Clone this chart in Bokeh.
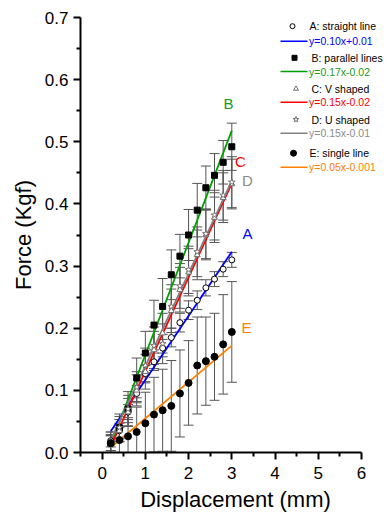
from bokeh.plotting import figure
from bokeh.models import FixedTicker, PrintfTickFormatter, ColumnDataSource
from bokeh.core.properties import value
from bokeh.embed import file_html
from bokeh.resources import INLINE

# ---------------- data ----------------
disp = [0.2, 0.4, 0.6, 0.8, 1.0, 1.2, 1.4, 1.6, 1.8, 2.0, 2.2, 2.4, 2.6, 2.8, 3.0]

a_force = [0.019, 0.035, 0.065, 0.095, 0.127, 0.146, 0.168, 0.185, 0.209, 0.229, 0.245, 0.265, 0.279, 0.295, 0.310]
a_err   = [0.010, 0.012, 0.012, 0.013, 0.013, 0.014, 0.014, 0.015, 0.015, 0.015, 0.015, 0.013, 0.012, 0.012, 0.012]

b_force = [0.015, 0.040, 0.070, 0.120, 0.160, 0.205, 0.235, 0.286, 0.316, 0.350, 0.390, 0.426, 0.446, 0.467, 0.492]
b_err   = [0.018, 0.022, 0.028, 0.032, 0.035, 0.040, 0.045, 0.040, 0.035, 0.041, 0.043, 0.035, 0.035, 0.035, 0.038]

c_force = [0.012, 0.035, 0.065, 0.100, 0.130, 0.165, 0.192, 0.228, 0.262, 0.290, 0.318, 0.350, 0.378, 0.410, 0.432]
c_err   = [0.015, 0.018, 0.022, 0.025, 0.028, 0.030, 0.032, 0.035, 0.036, 0.038, 0.040, 0.040, 0.040, 0.040, 0.040]

d_force = [0.018, 0.040, 0.070, 0.105, 0.140, 0.172, 0.175, 0.235, 0.268, 0.294, 0.323, 0.352, 0.382, 0.414, 0.435]
d_err   = [0.015, 0.018, 0.022, 0.025, 0.028, 0.030, 0.032, 0.035, 0.036, 0.038, 0.040, 0.040, 0.040, 0.040, 0.041]

e_force = [0.015, 0.020, 0.026, 0.033, 0.047, 0.061, 0.068, 0.075, 0.095, 0.112, 0.140, 0.147, 0.154, 0.174, 0.194]
e_err   = [0.012, 0.020, 0.030, 0.040, 0.050, 0.060, 0.066, 0.073, 0.070, 0.068, 0.078, 0.071, 0.070, 0.080, 0.081]

# fitted lines: start/end points
fit_x0 = [0.2, 0.2, 0.2, 0.2, 0.2]
fit_y0 = [0.034, 0.013, 0.010, 0.020, 0.008]
fit_x1 = [3.0, 3.0, 3.0, 3.0, 3.0]
fit_y1 = [0.323, 0.518, 0.433, 0.437, 0.172]

series_names = ["A: straight line", "B: parallel lines", "C: V shaped", "D: U shaped", "E: single line"]
fit_labels = ["y=0.10x+0.01", "y=0.17x-0.02", "y=0.15x-0.02", "y=0.15x-0.01", "y=0.05x-0.001"]
short_names = ["A", "B", "C", "D", "E"]

x_ticks = [0, 1, 2, 3, 4, 5, 6]
x_minor = [-0.5, 0.5, 1.5, 2.5, 3.5, 4.5, 5.5]
y_ticks = [0.0, 0.1, 0.2, 0.3, 0.4, 0.5, 0.6, 0.7]
y_minor = [0.05, 0.15, 0.25, 0.35, 0.45, 0.55, 0.65]

# ---------------- style / layout ----------------
FONT = "Liberation Sans"
line_colors = ["#0000ff", "#00a000", "#ff0000", "#808080", "#ff8000"]
text_colors = ["#0000ff", "#1a9a1a", "#ff0000", "#8c8c8c", "#ff8000"]
markers = ["circle", "square", "triangle", "star", "circle"]
m_fill = ["white", "black", "white", "white", "black"]
m_line = ["black", "black", "#707070", "#707070", "black"]
m_size = [6, 6, 6, 7, 7]

W, H = 390, 517
LEFT, TOP, BOTTOM = 80, 17, 65
FW, FH = W - LEFT, H - TOP - BOTTOM        # frame runs to the right edge
AX_PX = 281                                 # pixels used by the x axis (-0.5 .. 6)
XMIN, AXMAX = -0.5, 6.0
XMAX = XMIN + (AXMAX - XMIN) * FW / AX_PX
YMIN, YMAX = 0.0, 0.7

p = figure(width=W, height=H, x_range=(XMIN, XMAX), y_range=(YMIN, YMAX),
           output_backend="svg", toolbar_location=None,
           min_border_left=LEFT, min_border_right=0, min_border_top=TOP,
           min_border_bottom=BOTTOM)
p.outline_line_color = None
p.xgrid.visible = False
p.ygrid.visible = False

for ax in (p.xaxis[0], p.yaxis[0]):
    ax.axis_line_width = 2
    ax.major_tick_line_width = 2
    ax.minor_tick_line_width = 2
    ax.major_tick_out = 7
    ax.major_tick_in = 0
    ax.minor_tick_out = 4
    ax.minor_tick_in = 0
    ax.major_label_text_font = FONT
    ax.major_label_text_font_size = "17px"
    ax.major_label_text_color = "black"
    ax.axis_label_text_font = FONT
    ax.axis_label_text_font_size = "22px"
    ax.axis_label_text_font_style = "normal"
    ax.axis_label_text_color = "black"

p.xaxis.bounds = (XMIN, AXMAX)
p.xaxis.ticker = FixedTicker(ticks=x_ticks, minor_ticks=x_minor)
p.yaxis.ticker = FixedTicker(ticks=y_ticks, minor_ticks=y_minor)
p.yaxis.formatter = PrintfTickFormatter(format="%.1f")
p.xaxis.axis_label = "Displacement (mm)"
p.yaxis.axis_label = "Force (Kgf)"
p.xaxis.major_label_standoff = 7
p.yaxis.major_label_standoff = 5
p.xaxis.axis_label_standoff = 5
p.yaxis.axis_label_standoff = 6

forces = [a_force, b_force, c_force, d_force, e_force]
errs = [a_err, b_err, c_err, d_err, e_err]

# error bars
for f, e in zip(forces, errs):
    lo = [fi - ei for fi, ei in zip(f, e)]
    hi = [fi + ei for fi, ei in zip(f, e)]
    src = ColumnDataSource(dict(x=disp, lo=lo, hi=hi))
    p.segment(x0="x", y0="lo", x1="x", y1="hi", source=src, line_color="#555555", line_width=1)
    p.scatter(x="x", y="lo", source=src, marker="dash", size=10, line_color="#555555", line_width=1)
    p.scatter(x="x", y="hi", source=src, marker="dash", size=10, line_color="#555555", line_width=1)

# fit lines
for i in range(5):
    p.line([fit_x0[i], fit_x1[i]], [fit_y0[i], fit_y1[i]], line_color=line_colors[i], line_width=1.8)

# markers
for i, f in enumerate(forces):
    p.scatter(disp, f, marker=markers[i], size=m_size[i], fill_color=m_fill[i],
              line_color=m_line[i], line_width=1)

# helpers: canvas pixel -> data
def sx(px):
    return XMIN + (px - LEFT) * (AXMAX - XMIN) / AX_PX

def sy(py):
    return YMIN + (TOP + FH - py) * (YMAX - YMIN) / FH

# letters at the line ends
lab_px = [(247, 233), (228, 103), (240, 161), (247, 180), (246, 327)]
p.text(x=[sx(a) for a, b in lab_px], y=[sy(b) for a, b in lab_px], text=short_names,
       text_color=text_colors, text_font=value(FONT), text_font_size="15px",
       text_align="center", text_baseline="middle")

# legend (layout positions in canvas pixels)
sym_rows = [25.7, 57.3, 88.3, 119.0, 152.7]
line_rows = [40.7, 71.0, 101.7, 132.7, 166.7]
sym_px = [292, 294, 295.5, 295.5, 293]
txt_px = [309, 311, 311, 311, 309]
for i in range(5):
    p.scatter([sx(sym_px[i])], [sy(sym_rows[i])], marker=markers[i], size=m_size[i] - 1,
              fill_color=m_fill[i], line_color=m_line[i], line_width=1)
    p.segment(x0=[sx(280)], y0=[sy(line_rows[i])], x1=[sx(307)], y1=[sy(line_rows[i])],
              line_color=line_colors[i], line_width=1.5)
p.text(x=[sx(v) for v in txt_px], y=[sy(v) for v in sym_rows], text=series_names,
       text_color="black", text_font=value(FONT), text_font_size="10.5px",
       text_align="left", text_baseline="middle")
p.text(x=[sx(308.5)] * 5, y=[sy(v) for v in line_rows], text=fit_labels,
       text_color=text_colors, text_font=value(FONT), text_font_size="10.5px",
       text_align="left", text_baseline="middle")

open("out.html", "w").write(file_html(p, INLINE))
